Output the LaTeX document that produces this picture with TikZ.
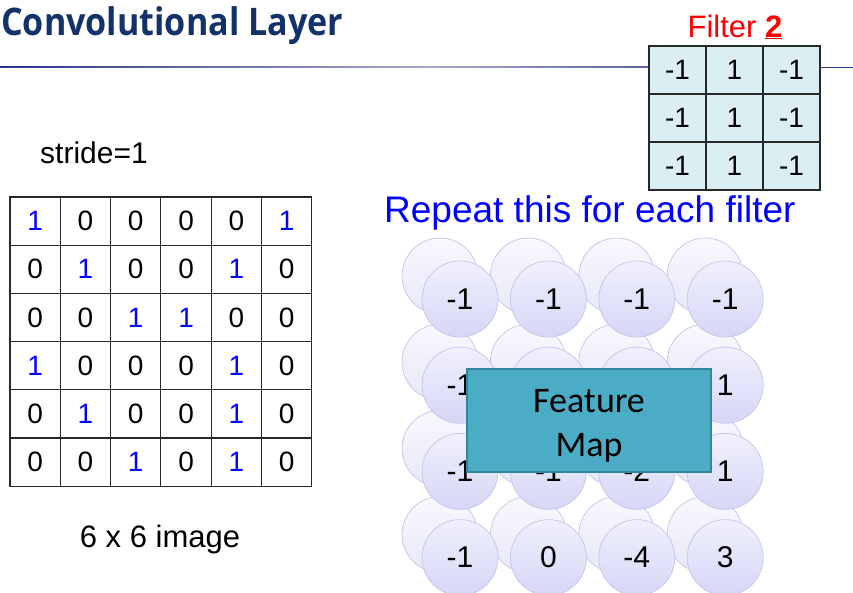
\documentclass[tikz,border=0pt]{standalone}
\usepackage{fontspec}
\usepackage{graphicx}
\setmainfont{Liberation Sans}
\newfontfamily\titlefont{Open Sans}
\newfontfamily\calfont{Carlito}
\definecolor{titleblue}{RGB}{18,50,105}
\definecolor{linedark}{RGB}{40,52,135}
\definecolor{linelight}{RGB}{165,168,205}
\definecolor{linemid}{RGB}{90,100,165}
\definecolor{filterfill}{RGB}{219,238,244}
\definecolor{circedge}{RGB}{196,196,236}
\definecolor{backtop}{RGB}{248,248,254}
\definecolor{backbot}{RGB}{232,232,249}
\definecolor{fronttop}{RGB}{240,240,253}
\definecolor{frontbot}{RGB}{214,214,246}
\definecolor{fmfill}{RGB}{75,172,198}
\definecolor{fmedge}{RGB}{49,133,156}
\definecolor{gridedge}{RGB}{40,40,40}
\definecolor{pureblue}{RGB}{0,0,255}
\tikzset{
  imgcell/.style={draw=gridedge, line width=1.1pt, minimum width=50.3pt, minimum height=48.2pt, inner sep=0pt, font=\fontsize{28}{32}\selectfont},
  fcell/.style={draw=gridedge, line width=1.3pt, fill=filterfill, minimum width=57pt, minimum height=48pt, inner sep=0pt, font=\fontsize{28}{32}\selectfont},
  backcirc/.style={circle, draw=circedge, line width=0.7pt, top color=backtop, bottom color=backbot, minimum size=76pt, inner sep=0pt},
  frontcirc/.style={circle, draw=circedge, line width=0.7pt, top color=fronttop, bottom color=frontbot, minimum size=76pt, inner sep=0pt, font=\fontsize{30}{34}\selectfont},
  fmbox/.style={draw=fmedge, line width=2pt, fill=fmfill, minimum width=244pt, minimum height=103pt, inner sep=0pt},
  fmtext/.style={anchor=base, inner sep=0pt, font=\calfont\fontsize{36}{40}\selectfont}
}
\begin{document}
\begin{tikzpicture}[x=1pt,y=-1pt]
\useasboundingbox (0,0) rectangle (853,592);
% title and rule
\node[anchor=base west, inner sep=0pt, text=titleblue, font=\titlefont\bfseries\fontsize{38}{40}\selectfont] (title) at (1,35) {\resizebox{342pt}{\height}{Convolutional Layer}};
\coordinate (ruleD) at (820,67.5);
\coordinate (ruleE) at (853,67.5);
\shade[left color=linedark, right color=linelight] (0,66.3) rectangle (430,67.8);
\shade[left color=linelight, right color=linemid] (430,66.3) rectangle (649,67.8);
\draw[linedark, line width=1.4pt] (ruleD) -- (ruleE);
% filter
\node[anchor=base, inner sep=0pt, text=red, font=\fontsize{31}{36}\selectfont] (ftitle) at (735,37) {Filter \underline{\textbf{2}}};
\foreach \r in {0,1,2}{
  \node[fcell] (f-\r-0) at (677.5,{70+48*\r}) {-1};
  \node[fcell] (f-\r-1) at (734.5,{70+48*\r}) {1};
  \node[fcell] (f-\r-2) at (791.5,{70+48*\r}) {-1};
}
% stride
\node[anchor=base west, inner sep=0pt, font=\fontsize{30}{34}\selectfont] (stride) at (40,163) {stride=1};
% image
\foreach \r/\row in {0/{1,0,0,0,0,1},1/{0,1,0,0,1,0},2/{0,0,1,1,0,0},3/{1,0,0,0,1,0},4/{0,1,0,0,1,0},5/{0,0,1,0,1,0}}{
  \foreach \v [count=\c from 0] in \row {
    \ifnum\v=1
      \node[imgcell, text=pureblue] (m-\r-\c) at ({35.15+50.3*\c},{221.1+48.2*\r}) {1};
    \else
      \node[imgcell] (m-\r-\c) at ({35.15+50.3*\c},{221.1+48.2*\r}) {0};
    \fi
  }
}
\node[anchor=base, inner sep=0pt, font=\fontsize{31}{36}\selectfont] (imgcap) at (160,547) {6 x 6 image};
% repeat
\node[anchor=base west, inner sep=0pt, text=pureblue, font=\fontsize{37}{42}\selectfont] (repeat) at (384,222) {Repeat this for each filter};
% circles
\foreach \i in {0,1,2,3}{
  \foreach \j in {0,1,2,3}{
    \node[backcirc] (b-\i-\j) at ({440+88.4*\j},{276+86.2*\i}) {};
  }
}
\foreach \i/\row in {0/{-1,-1,-1,-1},1/{-1,,,1},2/{-1,-1,-2,1},3/{-1,0,-4,3}}{
  \foreach \v [count=\j from 0] in \row {
    \node[frontcirc] (c-\i-\j) at ({460+88.4*\j},{299+86.2*\i}) {\v};
  }
}
% feature map
\node[fmbox] (fm) at (589,420.5) {};
\node[fmtext] (fm1) at (589,412) {Feature};
\node[fmtext] (fm2) at (589,456) {Map};
\end{tikzpicture}
\end{document}
